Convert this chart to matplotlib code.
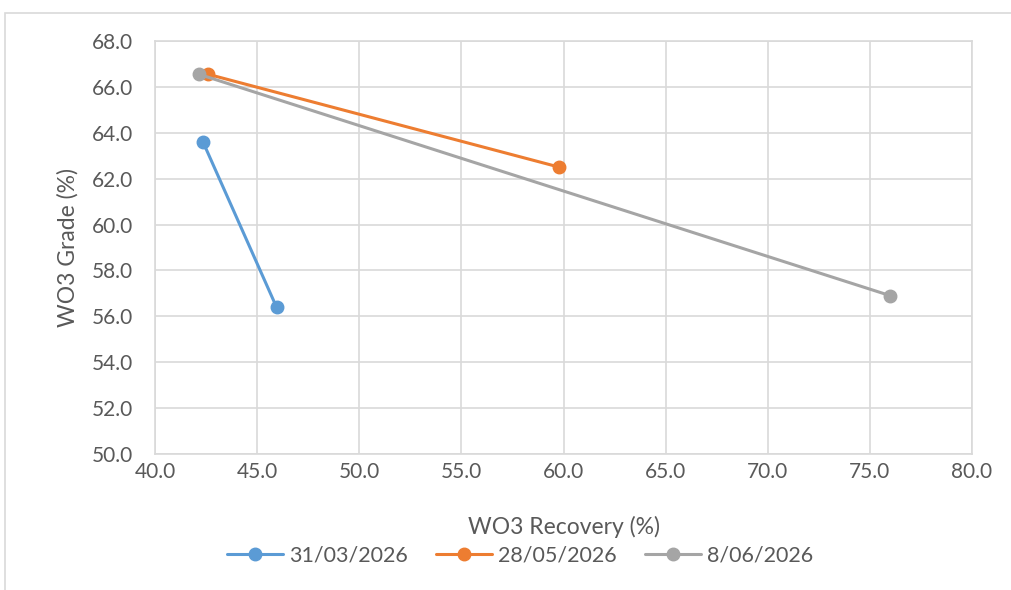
import matplotlib.pyplot as plt
from matplotlib.patches import Rectangle

series_names = ["31/03/2026", "28/05/2026", "8/06/2026"]
recovery = [[42.35, 45.95], [42.6, 59.8], [42.15, 76.0]]
grade = [[63.6, 56.4], [66.55, 62.5], [66.55, 56.9]]
colors = ["#5b9bd5", "#ed7d31", "#a5a5a5"]

plt.rcParams["font.family"] = ["Lato", "DejaVu Sans"]
txt = "#595959"

fig = plt.figure(figsize=(10.11, 5.90), dpi=100)
fig.patches.append(Rectangle((5 / 1011, -0.1), 1.2, 1 - 13 / 590 + 0.1,
                             transform=fig.transFigure, fill=False,
                             edgecolor="#d9d9d9", linewidth=1.2))
ax = fig.add_axes([155 / 1011, 1 - 454 / 590, 817 / 1011, 413 / 590])

for xs, ys, name, c in zip(recovery, grade, series_names, colors):
    ax.plot(xs, ys, color=c, linewidth=2.2, marker="o", markersize=9,
            label=name, solid_capstyle="round", zorder=3)

ax.set_xlim(40, 80)
ax.set_ylim(50, 68)
ax.set_xticks(range(40, 81, 5))
ax.set_yticks(range(50, 69, 2))
ax.set_xticklabels([f"{v:.1f}" for v in range(40, 81, 5)])
ax.set_yticklabels([f"{v:.1f}" for v in range(50, 69, 2)])
ax.grid(True, color="#d9d9d9", linewidth=1.2)
ax.set_axisbelow(True)
for s in ax.spines.values():
    s.set_color("#d9d9d9")
    s.set_linewidth(1.2)
ax.tick_params(length=0, labelsize=15, colors=txt)
ax.tick_params(axis="y", pad=16)
ax.tick_params(axis="x", pad=6)
ax.set_xlabel("WO3 Recovery (%)", fontsize=16.5, color=txt, labelpad=24)
ax.set_ylabel("WO3 Grade (%)", fontsize=16.5, color=txt, labelpad=9)

ax.legend(loc="center", bbox_to_anchor=(0.447, -0.245), ncol=3, frameon=False,
          fontsize=15.5, labelcolor=txt, handlelength=2.6, handletextpad=0.3,
          columnspacing=1.3)

fig.savefig("out.png", dpi=100)
